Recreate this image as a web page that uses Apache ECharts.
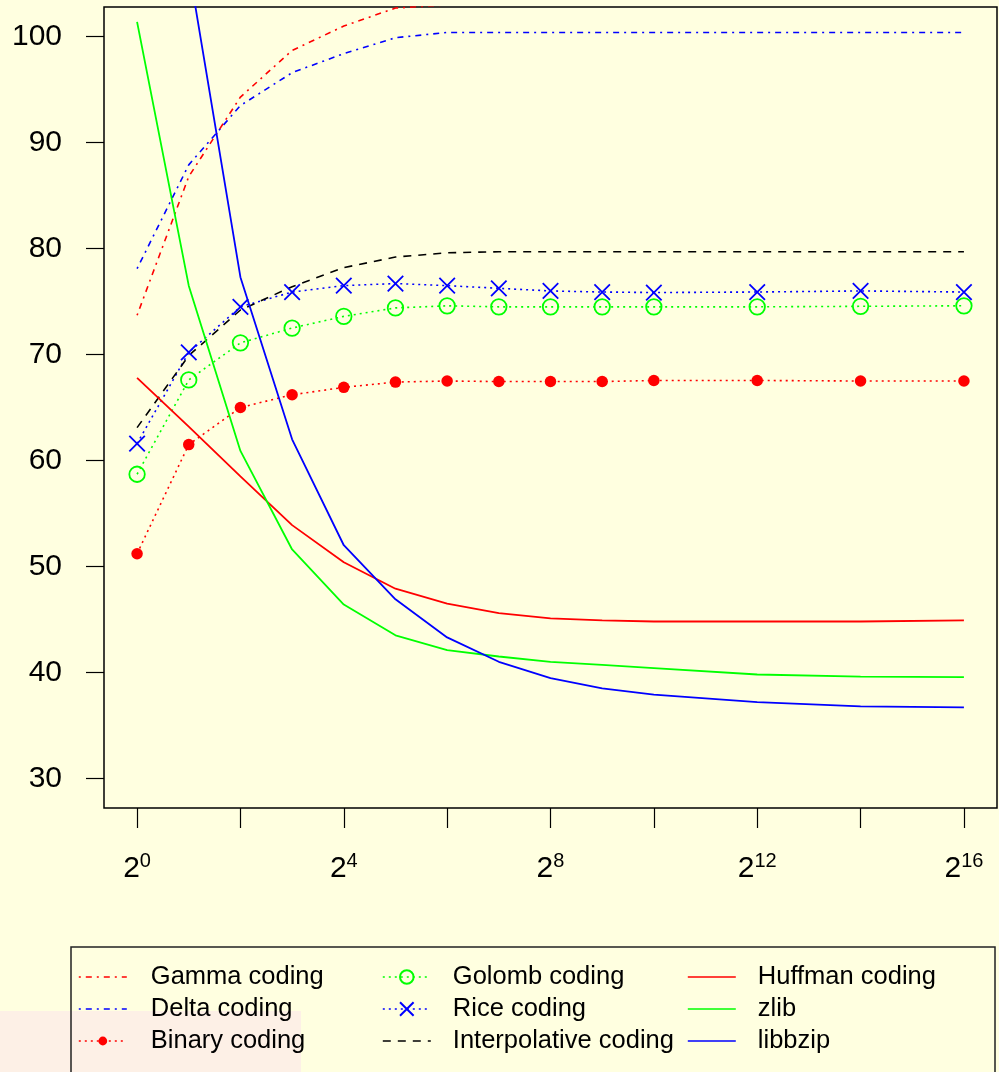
<!DOCTYPE html>
<html>
<head>
<meta charset="utf-8">
<script src="https://cdn.jsdelivr.net/npm/echarts@6/dist/echarts.min.js"></script>
<style>
  html, body { margin: 0; padding: 0; background: #FFFFE0; }
  #chart { width: 999px; height: 1072px; }
</style>
</head>
<body>
<div id="chart"></div>
<script>
// log2 of the block size (2^0 .. 2^16)
const exponents = [0, 1, 2, 3, 4, 5, 6, 7, 8, 9, 10, 12, 14, 16];

// compression results per method
const gammaCoding        = [73.7, 86.8, 94.3, 98.7, 101.0, 102.7, 103.0, 103.1, 103.2, 103.2, 103.3, 103.3, 103.3, 103.3];
const deltaCoding        = [78.1, 87.9, 93.5, 96.6, 98.4, 99.9, 100.4, 100.4, 100.4, 100.4, 100.4, 100.4, 100.4, 100.4];
const binaryCoding       = [51.2, 61.5, 65.0, 66.2, 66.9, 67.4, 67.5, 67.45, 67.45, 67.45, 67.55, 67.55, 67.5, 67.5];
const golombCoding       = [58.7, 67.6, 71.1, 72.5, 73.6, 74.4, 74.6, 74.5, 74.5, 74.5, 74.5, 74.5, 74.55, 74.6];
const riceCoding         = [61.6, 70.2, 74.5, 75.9, 76.5, 76.7, 76.5, 76.25, 76.0, 75.9, 75.85, 75.9, 76.0, 75.9];
const interpolativeCoding= [63.1, 69.9, 74.2, 76.4, 78.2, 79.2, 79.6, 79.7, 79.7, 79.7, 79.7, 79.7, 79.7, 79.7];
const huffmanCoding      = [67.8, 63.2, 58.5, 53.9, 50.4, 47.9, 46.5, 45.6, 45.1, 44.9, 44.8, 44.8, 44.8, 44.9];
const zlib               = [101.4, 76.5, 60.9, 51.6, 46.4, 43.5, 42.1, 41.5, 41.0, 40.7, 40.4, 39.8, 39.6, 39.55];
const libbzip            = [130.0, 106.6, 77.3, 62.0, 52.0, 46.9, 43.3, 41.0, 39.45, 38.5, 37.9, 37.2, 36.8, 36.7];

// axis ticks and labels
const yTicks = [30, 40, 50, 60, 70, 80, 90, 100];
const xTicks = [0, 2, 4, 6, 8, 10, 12, 14, 16];
const xLabelExponents = [0, 4, 8, 12, 16];

const FONT = '"Liberation Sans", Arial, Helvetica, sans-serif';
const RED = '#FF0000', GREEN = '#00FF00', BLUE = '#0000FF', BLACK = '#000000';
const DOT_DASH = [2, 5, 6, 5];
const DOTTED = [2, 4];
const DASHED = [8, 7];

function pairs(values) {
  return exponents.map((e, i) => [e, values[i]]);
}

function lineSeries(name, values, color, dash, symbolOpts) {
  const s = {
    name: name,
    type: 'line',
    data: pairs(values),
    clip: true,
    silent: true,
    animation: false,
    lineStyle: { color: color, width: dash === 'solid' ? 1.8 : 1.6, type: dash },
    itemStyle: { color: color },
    symbol: 'none'
  };
  if (symbolOpts) Object.assign(s, symbolOpts);
  return s;
}

const series = [
  lineSeries('Gamma coding', gammaCoding, RED, DOT_DASH),
  lineSeries('Delta coding', deltaCoding, BLUE, DOT_DASH),
  lineSeries('Binary coding', binaryCoding, RED, DOTTED, {
    symbol: 'circle', symbolSize: 11.5, showSymbol: true,
    itemStyle: { color: RED }
  }),
  lineSeries('Golomb coding', golombCoding, GREEN, DOTTED, {
    symbol: 'circle', symbolSize: 15.5, showSymbol: true,
    itemStyle: { color: 'rgba(0,0,0,0)', borderColor: GREEN, borderWidth: 1.8 }
  }),
  lineSeries('Rice coding', riceCoding, BLUE, DOTTED, {
    symbol: 'path://M0,0L10,10M10,0L0,10', symbolSize: 15.5, showSymbol: true,
    itemStyle: { color: 'rgba(0,0,0,0)', borderColor: BLUE, borderWidth: 1.8 }
  }),
  lineSeries('Interpolative coding', interpolativeCoding, BLACK, DASHED),
  lineSeries('Huffman coding', huffmanCoding, RED, 'solid'),
  lineSeries('zlib', zlib, GREEN, 'solid'),
  lineSeries('libbzip', libbzip, BLUE, 'solid')
];

const noSymbol = { opacity: 0 };

function legendColumn(left, itemHeight, textGap, items) {
  return {
    show: true,
    orient: 'vertical',
    left: left,
    top: 964,
    itemWidth: 48,
    itemHeight: itemHeight,
    itemGap: 6,
    padding: 0,
    selectedMode: false,
    lineStyle: { width: 1.6 },
    textStyle: { fontFamily: FONT, fontSize: 25.5, color: '#000', padding: [0, 0, 0, textGap] },
    data: items
  };
}

const chart = echarts.init(document.getElementById('chart'), null, { renderer: 'canvas' });

chart.setOption({
  backgroundColor: '#FFFFE0',
  animation: false,
  grid: {
    left: 104, right: 2, top: 7, bottom: 264,
    show: true, borderColor: '#000', borderWidth: 1.5, backgroundColor: 'transparent'
  },
  xAxis: {
    type: 'value',
    min: -0.64,
    max: 16.64,
    axisLine: { show: false, onZero: false },
    splitLine: { show: false },
    axisTick: { show: true, length: 20, inside: false, customValues: xTicks, lineStyle: { color: '#000', width: 1.2 } },
    axisLabel: {
      show: true,
      margin: 43,
      customValues: xLabelExponents,
      formatter: v => '{b|2}{s|' + v + '}',
      rich: {
        b: { fontFamily: FONT, fontSize: 30, color: '#000', verticalAlign: 'bottom', padding: [3, 0, 0, 0] },
        s: { fontFamily: FONT, fontSize: 20, color: '#000', verticalAlign: 'top' }
      }
    }
  },
  yAxis: {
    type: 'value',
    min: 27.2,
    max: 102.8,
    axisLine: { show: false, onZero: false },
    splitLine: { show: false },
    axisTick: { show: true, length: 18, inside: false, customValues: yTicks, lineStyle: { color: '#000', width: 1.2 } },
    axisLabel: {
      show: true,
      margin: 42,
      customValues: yTicks,
      fontFamily: FONT, fontSize: 30, color: '#000'
    }
  },
  legend: [
    legendColumn(78, 11, 19, [
      { name: 'Gamma coding', itemStyle: noSymbol },
      { name: 'Delta coding', itemStyle: noSymbol },
      { name: 'Binary coding' }
    ]),
    legendColumn(382, 17, 17, [
      { name: 'Golomb coding' },
      { name: 'Rice coding' },
      { name: 'Interpolative coding', itemStyle: noSymbol }
    ]),
    legendColumn(687, 11, 17, [
      { name: 'Huffman coding', itemStyle: noSymbol },
      { name: 'zlib', itemStyle: noSymbol },
      { name: 'libbzip', itemStyle: noSymbol }
    ])
  ],
  graphic: [
    {
      type: 'rect', z: 0, silent: true,
      shape: { x: 0, y: 1011, width: 301, height: 61 },
      style: { fill: '#FDF0E6' }
    },
    {
      type: 'rect', z: 10, silent: true,
      shape: { x: 71, y: 947, width: 924, height: 140 },
      style: { fill: 'none', stroke: '#222', lineWidth: 1.5 }
    }
  ],
  series: series
});
</script>
</body>
</html>
